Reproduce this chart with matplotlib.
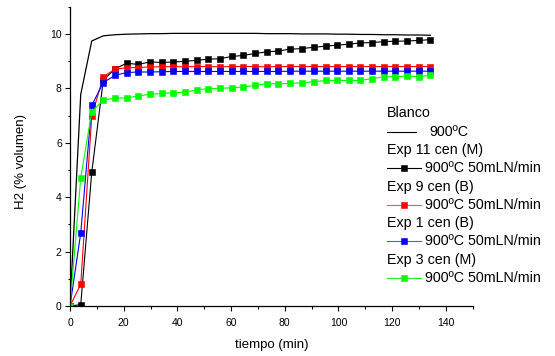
import matplotlib
matplotlib.use("Agg")
import matplotlib.pyplot as plt
from matplotlib.lines import Line2D
from matplotlib.ticker import MultipleLocator

plt.rcParams["font.family"] = ["Liberation Sans", "DejaVu Sans"]

# sampling times (min)
tiempo = [0, 4.0, 8.1, 12.4, 16.8, 21.1, 25.5, 29.8, 34.2, 38.5, 42.8, 47.2,
          51.5, 55.9, 60.2, 64.6, 68.9, 73.3, 77.6, 81.9, 86.4, 90.8, 95.3,
          99.6, 103.8, 108.1, 112.6, 117.0, 121.2, 125.6, 130.0, 134.2]

# H2 (% volumen)
blanco = [0, 7.78, 9.74, 9.93, 9.97, 9.99, 10.0, 10.01, 10.01, 10.02, 10.02,
          10.02, 10.02, 10.02, 10.02, 10.02, 10.02, 10.01, 10.01, 10.01, 10.0,
          10.0, 10.0, 9.99, 9.99, 9.98, 9.98, 9.97, 9.97, 9.96, 9.96, 9.95]
exp11 = [0, 0.05, 4.91, 8.30, 8.72, 8.92, 8.88, 8.97, 8.95, 8.97, 8.99, 9.03,
         9.07, 9.09, 9.17, 9.21, 9.28, 9.34, 9.37, 9.44, 9.46, 9.51, 9.55,
         9.59, 9.62, 9.67, 9.68, 9.72, 9.73, 9.74, 9.76, 9.79]
exp9 = [0, 0.80, 6.98, 8.43, 8.70, 8.76, 8.76, 8.79, 8.79, 8.80, 8.79, 8.80,
        8.80, 8.79, 8.80, 8.80, 8.80, 8.79, 8.80, 8.80, 8.80, 8.80, 8.80,
        8.80, 8.80, 8.80, 8.80, 8.80, 8.80, 8.80, 8.80, 8.80]
exp1 = [0, 2.68, 7.37, 8.21, 8.48, 8.58, 8.60, 8.60, 8.61, 8.62, 8.62, 8.62,
        8.62, 8.62, 8.62, 8.62, 8.62, 8.62, 8.62, 8.63, 8.63, 8.63, 8.63,
        8.63, 8.63, 8.63, 8.63, 8.63, 8.63, 8.63, 8.63, 8.63]
exp3 = [0, 4.71, 7.14, 7.57, 7.64, 7.65, 7.72, 7.78, 7.81, 7.84, 7.86, 7.94,
        7.99, 8.00, 8.02, 8.05, 8.11, 8.17, 8.17, 8.18, 8.20, 8.24, 8.29,
        8.29, 8.29, 8.29, 8.36, 8.42, 8.43, 8.45, 8.43, 8.48]

series = [
    ("Exp 11 cen (M)", exp11, "#000000", "#000000"),
    ("Exp 9 cen (B)", exp9, "#ff0000", "#ff5555"),
    ("Exp 1 cen (B)", exp1, "#0000ff", "#5555ff"),
    ("Exp 3 cen (M)", exp3, "#00ff00", "#22ee22"),
]
cond_blanco = "900ºC"
cond_exp = "900ºC 50mLN/min"

W, H = 555, 356
fig = plt.figure(figsize=(W / 100, H / 100), dpi=100)
ax = fig.add_axes([70 / W, 1 - 306 / H, 402.7 / W, 299.3 / H])

ax.plot(tiempo, blanco, color="black", lw=0.9)
for name, vals, col, _ in series:
    ax.plot(tiempo, vals, color=col, lw=0.8, marker="s", ms=4.3,
            mec=col, mew=0.4)

ax.set_xlim(0, 150)
ax.set_ylim(0, 11)
ax.xaxis.set_major_locator(MultipleLocator(20))
ax.xaxis.set_minor_locator(MultipleLocator(10))
ax.yaxis.set_major_locator(MultipleLocator(2))
ax.yaxis.set_minor_locator(MultipleLocator(1))
for s in ("top", "right"):
    ax.spines[s].set_visible(False)
for s in ("left", "bottom"):
    ax.spines[s].set_linewidth(0.9)
ax.tick_params(which="major", direction="out", length=3.4, width=0.8,
               labelsize=7.5)
ax.tick_params(which="minor", direction="out", length=1.8, width=0.8)
ax.tick_params(axis="x", which="major", pad=5.5)
ax.tick_params(axis="y", which="major", pad=2.5)

ax.set_xlabel("tiempo (min)", fontsize=9.5, labelpad=8)
ax.set_ylabel("H2 (% volumen)", fontsize=9.5)
ax.yaxis.set_label_coords(-0.106, 0.484)


# legend block, laid out in pixel rows
def fx(px):
    return px / W


def fy(py):
    return 1 - py / H


fs = 10.3
fig.text(fx(387), fy(112.7), "Blanco", fontsize=fs, va="center")
fig.add_artist(Line2D([fx(387), fx(416)], [fy(131.7)] * 2, color="black",
                      lw=0.8, transform=fig.transFigure))
fig.text(fx(429), fy(131.7), cond_blanco, fontsize=fs, va="center")

row = 150.0
for name, vals, col, lcol in series:
    fig.text(fx(387), fy(row), name, fontsize=fs, va="center")
    ye = row + 18.2
    fig.add_artist(Line2D([fx(387), fx(420.7)], [fy(ye)] * 2, color=lcol,
                          lw=0.8, transform=fig.transFigure))
    fig.add_artist(Line2D([fx(403.5)], [fy(ye)], color=col, marker="s",
                          ms=4.3, mec=col, mew=0.4, lw=0,
                          transform=fig.transFigure))
    fig.text(fx(425), fy(ye), cond_exp, fontsize=fs, va="center")
    row += 36.6

fig.savefig("out.png", dpi=100)
